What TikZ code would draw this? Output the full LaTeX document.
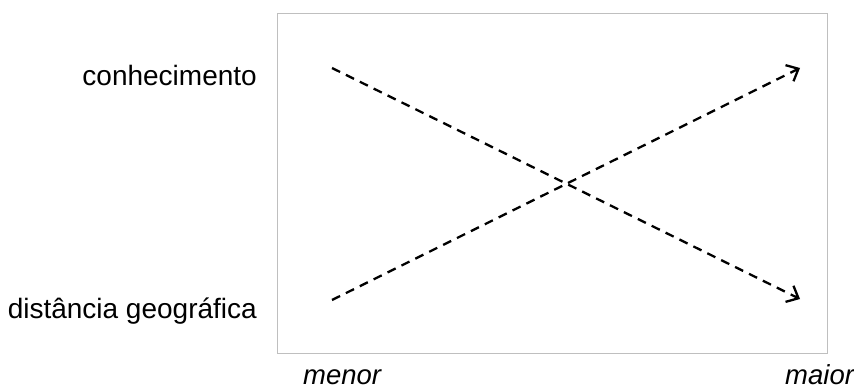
\documentclass[tikz,border=0pt]{standalone}
\usepackage{fontspec}
\setmainfont{Liberation Sans}
\usepackage{tikz}
\usetikzlibrary{positioning,arrows.meta}

\begin{document}
\begin{tikzpicture}[x=1pt,y=-1pt,
  lbl/.style={font=\fontsize{28}{31}\selectfont,inner sep=0pt},
  axis/.style={lbl,font=\fontsize{27.5}{31}\selectfont\itshape},
  trend/.style={line width=2.3pt,dash pattern=on 9pt off 6.5pt,
    -{Straight Barb[length=10pt,width=18pt,line width=2.3pt]}}]
\useasboundingbox (0,0) rectangle (854,391);
\node[draw=black!25,line width=1.3pt,minimum width=550pt,minimum height=340pt,anchor=north west] (frame) at (277,13) {};
\node[lbl,anchor=base east] (know) at (257,85) {conhecimento};
\node[lbl,anchor=base east] (dist) at (257,318) {distância geográfica};
\node[axis,anchor=base west] (low) at (303,384) {menor};
\node[axis,anchor=base west] (high) at (785,384) {maior};
\coordinate (kstart) at (332,68); \coordinate (kend) at (800,299);
\coordinate (dstart) at (332,300); \coordinate (dend) at (800,68);
\draw[trend] (kstart) -- (kend);
\draw[trend] (dstart) -- (dend);
\end{tikzpicture}
\end{document}
